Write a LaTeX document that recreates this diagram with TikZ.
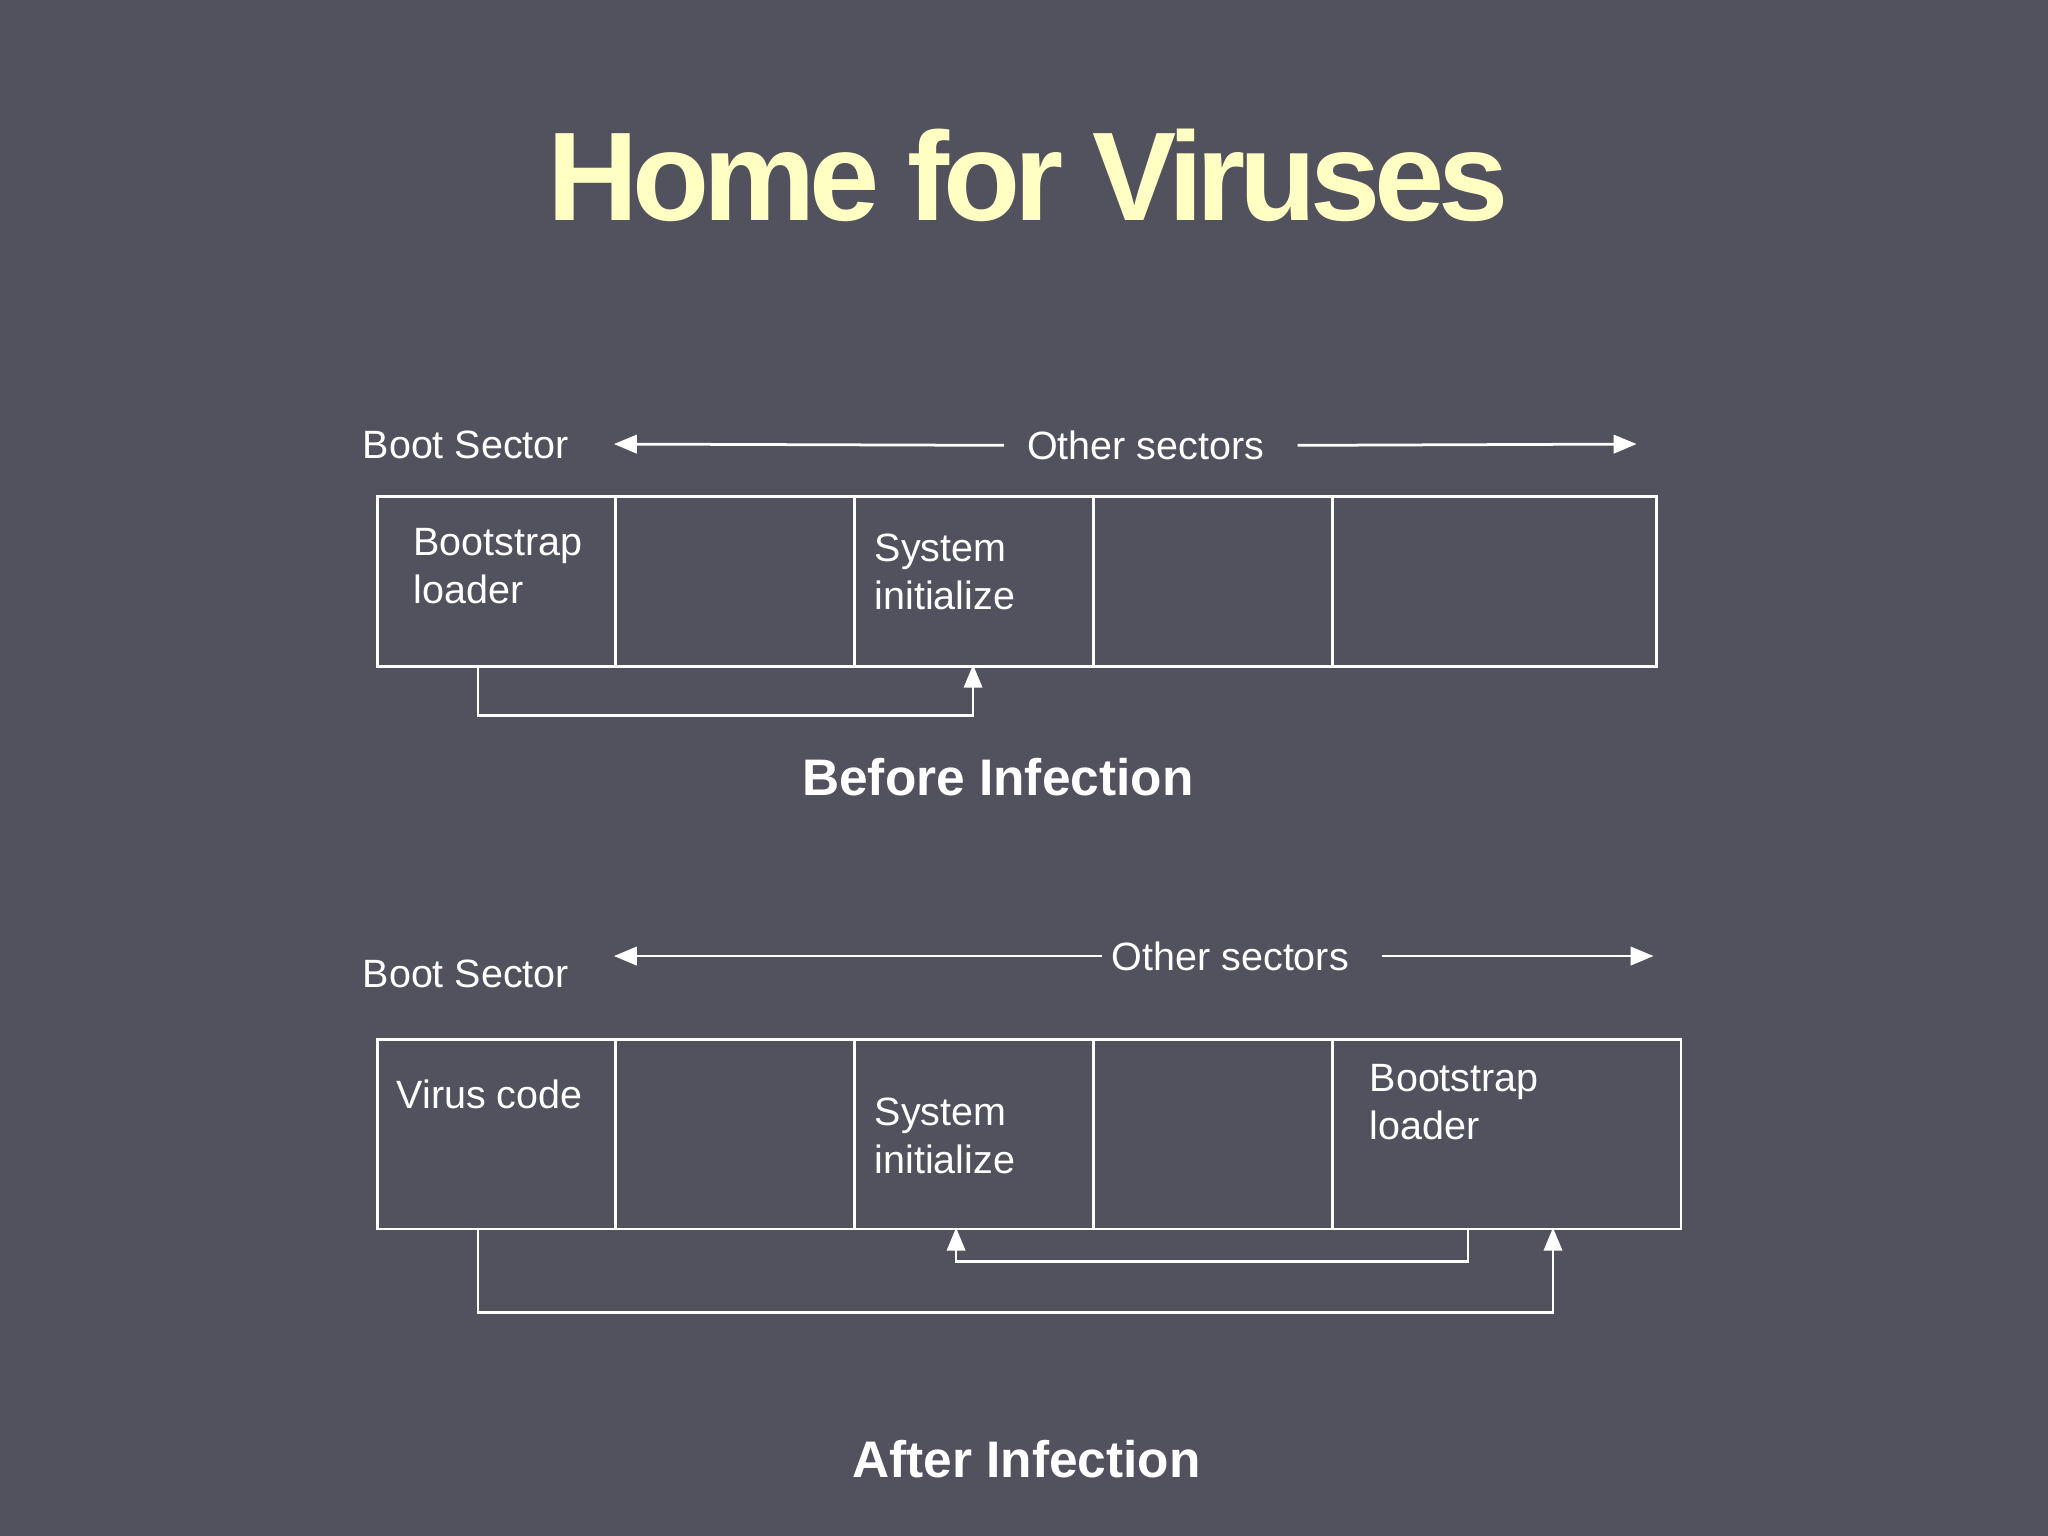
\documentclass[tikz,border=0pt]{standalone}
\usepackage{fontspec}
\setmainfont{Liberation Sans}
\newfontfamily\titlefont[LetterSpace=-5]{Liberation Sans}
\usetikzlibrary{arrows.meta,calc}
\definecolor{bg}{HTML}{52525F}
\definecolor{ttl}{HTML}{FFFFC4}
\tikzset{
 cell/.style={draw=white,line width=0.6pt,anchor=north west,minimum height=#1,inner sep=0pt},
 txt/.style={text=white,font=\fontsize{8.6}{10.5}\selectfont,inner sep=0pt},
 celltxt/.style={txt,align=left,anchor=north west},
 conn/.style={draw=white,line width=0.6pt},
 arr/.style={conn,-{Triangle[length=5pt,width=4pt]}},
 head/.style={text=white,font=\bfseries\fontsize{11.2}{13}\selectfont,inner sep=0pt}
}
\begin{document}
\begin{tikzpicture}[x=1cm,y=1cm]
\fill[bg] (0,0) rectangle (15.68,11.76);
\useasboundingbox (0,0) rectangle (15.68,11.76);
\node[text=ttl,inner sep=0pt] (title) at (7.87,10.42) {\titlefont\bfseries\fontsize{27.5}{30}\selectfont Home for Viruses};
% top row
\foreach \n/\a/\b in {a1/288/470,a2/470/653,a3/653/836,a4/836/1019,a5/1019/1267}{
 \node[cell=1.30cm,minimum width={(\b-\a)/100*1cm}] (\n) at (\a/100,{(1176-379)/100}) {};}
\node[txt,anchor=west] (bs1) at (2.77,8.35) {Boot Sector};
\node[txt] (os1) at (8.77,8.35) {Other sectors};
\coordinate (l1) at (4.70,8.36); \coordinate (r1) at (12.53,8.36);
\draw[arr] (os1.west)++(-0.17,0) -- (l1);
\draw[arr] (os1.east)++(0.25,0) -- (r1);
\node[celltxt] at (3.16,7.72) {Bootstrap\\loader};
\node[celltxt] at (6.69,7.68) {System\\initialize};
\coordinate (p1) at (3.66,6.67); \coordinate (q1) at (7.45,6.67);
\draw[arr] (p1) -- (3.66,6.28) -- (7.45,6.28) -- (q1);
\node[head] (before) at (7.64,5.81) {Before Infection};
% bottom row
\foreach \n/\a/\b in {b1/288/470,b2/470/653,b3/653/836,b4/836/1019,b5/1019/1286}{
 \node[cell=1.45cm,minimum width={(\b-\a)/100*1cm}] (\n) at (\a/100,{(1176-795)/100}) {};}
\node[txt,anchor=west] (bs2) at (2.77,4.30) {Boot Sector};
\node[txt] (os2) at (9.42,4.44) {Other sectors};
\coordinate (l2) at (4.70,4.44); \coordinate (r2) at (12.66,4.44);
\draw[arr] (os2.west)++(-0.07,0) -- (l2);
\draw[arr] (os2.east)++(0.25,0) -- (r2);
\node[celltxt] at (3.03,3.50) {Virus code};
\node[celltxt] at (6.69,3.36) {System\\initialize};
\node[celltxt] at (10.48,3.62) {Bootstrap\\loader};
\coordinate (p2) at (11.24,2.36); \coordinate (q2) at (7.32,2.36);
\draw[arr] (p2) -- (11.24,2.10) -- (7.32,2.10) -- (q2);
\coordinate (p3) at (3.66,2.36); \coordinate (q3) at (11.89,2.36);
\draw[arr] (p3) -- (3.66,1.71) -- (11.89,1.71) -- (q3);
\node[head] (after) at (7.86,0.59) {After Infection};
\end{tikzpicture}
\end{document}
